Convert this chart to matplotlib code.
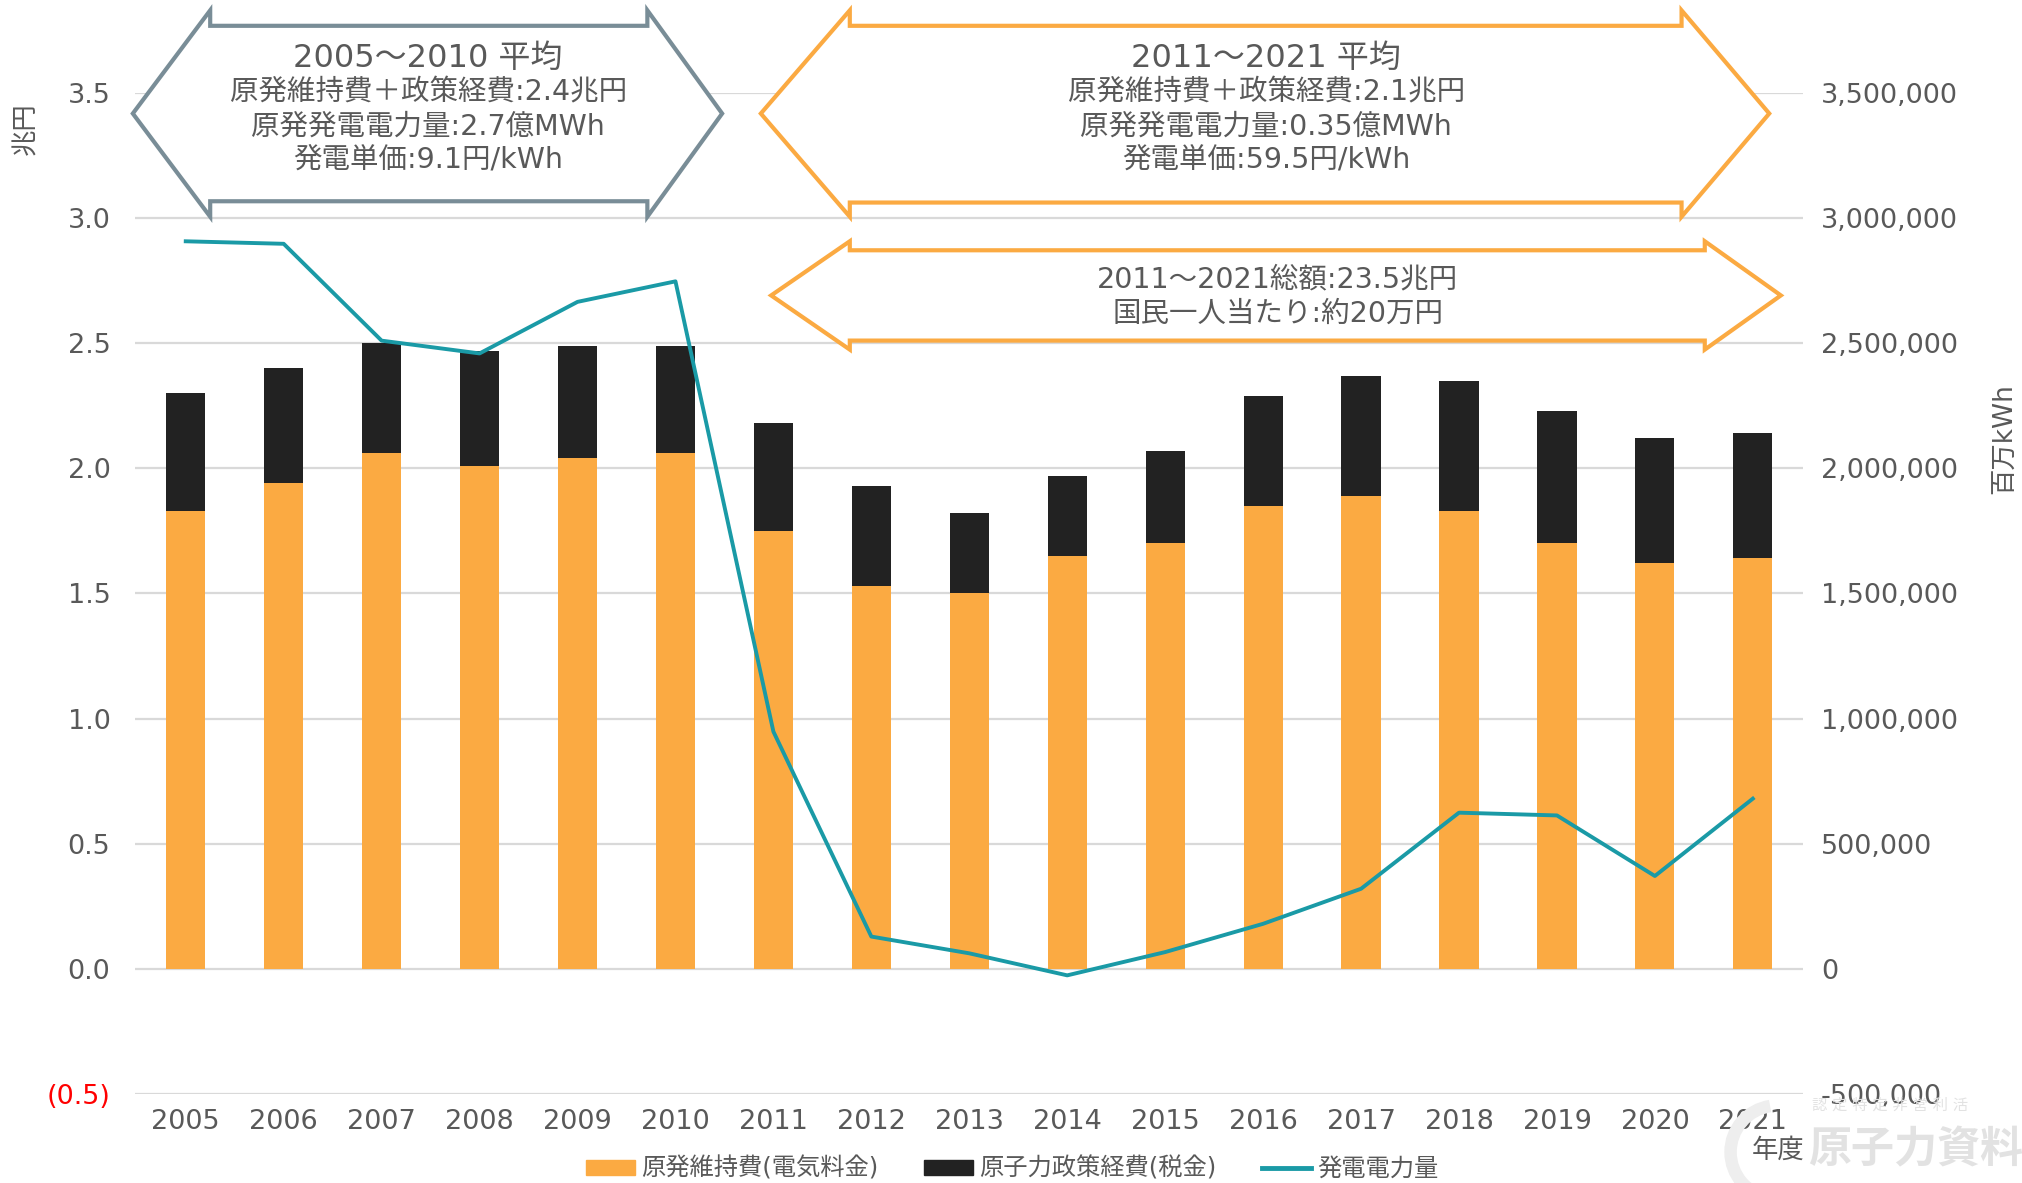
import matplotlib.pyplot as plt
from matplotlib.patches import Polygon, Patch, Arc
from matplotlib.lines import Line2D

plt.rcParams['font.family'] = ['DejaVu Sans', 'Noto Sans CJK JP']

# データ
years = ['2005', '2006', '2007', '2008', '2009', '2010', '2011', '2012', '2013',
         '2014', '2015', '2016', '2017', '2018', '2019', '2020', '2021']
# 原発維持費（電気料金）兆円
maintenance = [1.83, 1.94, 2.06, 2.01, 2.04, 2.06, 1.75, 1.53, 1.50,
               1.65, 1.70, 1.85, 1.89, 1.83, 1.70, 1.62, 1.64]
# 原子力政策経費（税金）兆円
policy = [0.47, 0.46, 0.44, 0.46, 0.45, 0.43, 0.43, 0.40, 0.32,
          0.32, 0.37, 0.44, 0.48, 0.52, 0.53, 0.50, 0.50]
# 発電電力量 百万kWh
generation = [2907000, 2897000, 2510000, 2459000, 2665000, 2747000, 948000, 129000, 62000,
              -26000, 67000, 180000, 320000, 624000, 613000, 371000, 680000]

left_ticks = [-0.5, 0.0, 0.5, 1.0, 1.5, 2.0, 2.5, 3.0, 3.5]
left_labels = ['(0.5)', '0.0', '0.5', '1.0', '1.5', '2.0', '2.5', '3.0', '3.5']
right_ticks = [-500000, 0, 500000, 1000000, 1500000, 2000000, 2500000, 3000000, 3500000]

box_left = ['2005～2010 平均', '原発維持費＋政策経費:2.4兆円', '原発発電電力量:2.7億MWh', '発電単価:9.1円/kWh']
box_right = ['2011～2021 平均', '原発維持費＋政策経費:2.1兆円', '原発発電電力量:0.35億MWh', '発電単価:59.5円/kWh']
box_mid = ['2011～2021総額:23.5兆円', '国民一人当たり:約20万円']

ORANGE = '#FBAA42'
BLACK = '#222222'
TEAL = '#1A9AA6'
GRAYBLUE = '#798D97'
TXT = '#595959'

W, H = 1568, 917  # 参照画像の表示サイズ（座標換算用）


def fx(x):
    return x / W


def fy(y):
    return 1 - y / H


fig = plt.figure(figsize=(20.22, 11.83), dpi=100)
ax = fig.add_axes([fx(105), fy(848), fx(1398) - fx(105), fy(72) - fy(848)])
ax2 = ax.twinx()

x = list(range(len(years)))
ax.bar(x, maintenance, width=0.4, color=ORANGE, zorder=2)
ax.bar(x, policy, width=0.4, bottom=maintenance, color=BLACK, zorder=2)
ax2.plot(x, generation, color=TEAL, lw=2.8, zorder=3)

ax.set_xlim(-0.514, 16.51)
ax.set_ylim(-0.5, 3.5)
ax2.set_ylim(-500000, 3500000)

ax.set_yticks(left_ticks)
ax.set_yticklabels(left_labels)
ax2.set_yticks(right_ticks)
ax2.set_yticklabels([f'{v:,}' for v in right_ticks])
ax.set_xticks(x)
ax.set_xticklabels(years)

for a in (ax, ax2):
    for s in a.spines.values():
        s.set_visible(False)
    a.tick_params(length=0, labelsize=19.5, colors=TXT)
ax.tick_params(axis='y', pad=18)
ax2.tick_params(axis='y', pad=13)
ax.tick_params(axis='x', pad=11)
ax.get_yticklabels()[0].set_color('red')
ax.grid(axis='y', color='#D9D9D9', lw=1.6, zorder=0)
ax.set_axisbelow(True)

fig.text(fx(20), fy(100), '兆円', rotation=90, ha='center', va='center', fontsize=19, color=TXT)
fig.text(fx(1555), fy(340), '百万kWh', rotation=90, ha='center', va='center', fontsize=19, color=TXT)
fig.text(fx(1379), fy(892), '年度', ha='center', va='center', fontsize=19, color=TXT)

# 透かし
fig.patches.append(Arc((fx(1378), fy(893)), 2 * 36 / W, 2 * 36 / H, theta1=95, theta2=265,
                       transform=fig.transFigure, color='#EEEEEE', lw=9, zorder=0))
fig.text(fx(1402), fy(892), '原子力資料情報室', ha='left', va='center', fontsize=31,
         color='#E2E2E2', fontweight='bold', zorder=0)
fig.text(fx(1405), fy(857), '認 定 特 定 非 営 利 活', ha='left', va='center', fontsize=11,
         color='#E2E2E2', zorder=0)


def double_arrow(x0, x1, x2, x3, yh_top, ys_top, ys_bot, yh_bot, color):
    ym = (yh_top + yh_bot) / 2
    pts = [(x0, ym), (x1, yh_top), (x1, ys_top), (x2, ys_top), (x2, yh_top), (x3, ym),
           (x2, yh_bot), (x2, ys_bot), (x1, ys_bot), (x1, yh_bot)]
    pts = [(fx(a), fy(b)) for a, b in pts]
    fig.patches.append(Polygon(pts, closed=True, transform=fig.transFigure,
                               facecolor='white', edgecolor=color, lw=3, zorder=5))


double_arrow(103, 163, 502, 560, 8, 20, 156, 168, GRAYBLUE)
double_arrow(590, 659, 1304, 1372, 8, 20, 157, 168, ORANGE)
double_arrow(598, 659, 1322, 1381, 187, 194, 264, 271, ORANGE)


def box_text(cx, ys, lines, sizes):
    for y, s, fs in zip(ys, lines, sizes):
        fig.text(fx(cx), fy(y), s, ha='center', va='center', fontsize=fs,
                 color=TXT, zorder=6)


box_text(332, [45, 72, 98, 124], box_left, [23, 20.5, 20.5, 20.5])
box_text(982, [45, 72, 98, 124], box_right, [23, 20.5, 20.5, 20.5])
box_text(991, [217, 243], box_mid, [20.5, 20.5])

handles = [Patch(color=ORANGE), Patch(color=BLACK), Line2D([0], [0], color=TEAL, lw=3.5)]
labels = ['原発維持費(電気料金)', '原子力政策経費(税金)', '発電電力量']
fig.legend(handles, labels, loc='center', bbox_to_anchor=(fx(785), fy(906)), ncol=3,
           frameon=False, fontsize=17.5, labelcolor=TXT, handlelength=2.0, handleheight=0.55,
           handletextpad=0.25, columnspacing=1.9)

fig.savefig('out.png', dpi=100)
